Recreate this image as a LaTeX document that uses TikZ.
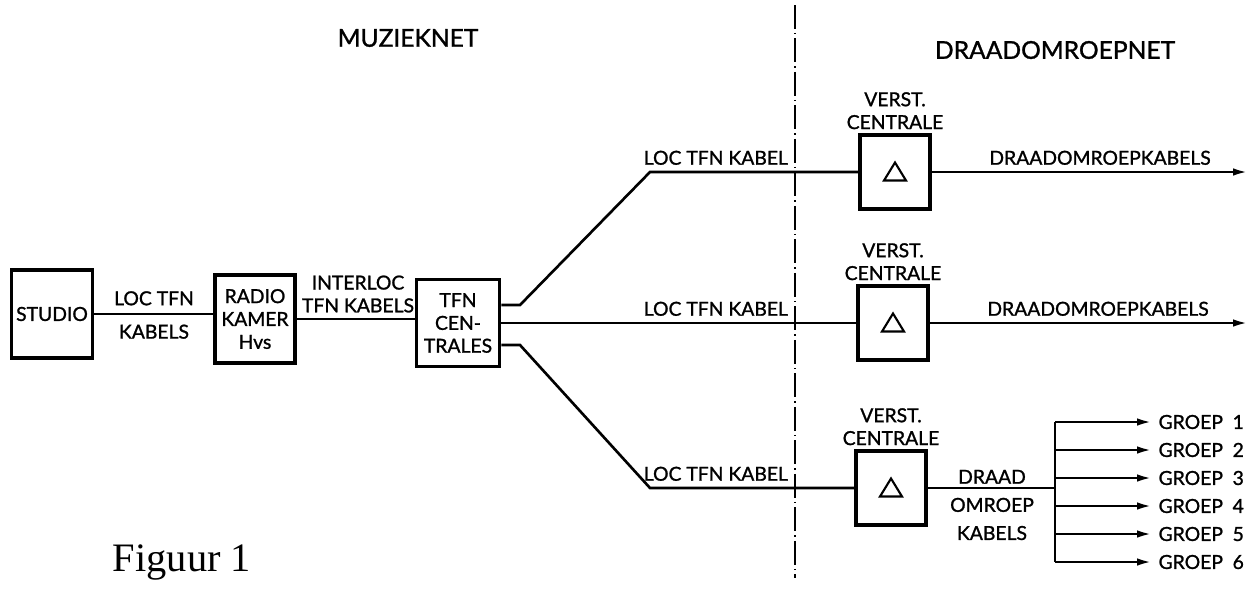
\documentclass[tikz,border=0pt]{standalone}
\usepackage{fontspec}
\setmainfont{Lato}[FakeBold=1.2]
\newfontfamily\figfont{Liberation Serif}
\usetikzlibrary{positioning, arrows.meta}

\begin{document}
\begin{tikzpicture}[
        x=0.02cm, y=-0.02cm,
        box/.style={
            rectangle,
            draw,
            line width=2.2pt,
            align=center,
            inner sep=1pt,
            font=\fontsize{11}{13}\selectfont
        },
        vbox/.style={
            box,
            minimum width=1.4cm,
            minimum height=1.48cm,
            path picture={
                \draw[line width=1.2pt, line join=miter]
                    ([shift={(-0.22cm,-0.17cm)}]path picture bounding box.center)
                    -- ([shift={(0.22cm,-0.17cm)}]path picture bounding box.center)
                    -- ([shift={(0cm,0.19cm)}]path picture bounding box.center)
                    -- cycle;
            }
        },
        lbl/.style={align=center, inner sep=1pt, font=\fontsize{11}{13}\selectfont},
        title/.style={inner sep=1pt, font=\fontsize{14}{16}\selectfont},
        wire/.style={line width=1.5pt},
        arrow/.style={wire, -{Latex[length=3mm, width=1.5mm]}},
        divider/.style={line width=1.1pt, dash pattern=on 0.48cm off 0.08cm on 0.03cm off 0.08cm}
    ]
    \useasboundingbox (0,0) rectangle (1250,589);

    % titels
    \node[title] (muziek) at (408,38) {MUZIEKNET};
    \node[title] (draadnet) at (1055,50) {DRAADOMROEPNET};
    \node[font=\figfont\fontsize{23}{23}\selectfont] (fig) at (182,562) {Figuur 1};

    % scheiding
    \coordinate (sep1) at (795,5);
    \coordinate (sep2) at (795,578);
    \draw[divider] (sep1) -- (sep2);

    % muzieknet
    \node[box, minimum width=1.62cm, minimum height=1.76cm] (studio) at (52,314) {STUDIO};
    \node[box, minimum width=1.6cm, minimum height=1.76cm] (radio) at (255,319) {RADIO\\KAMER\\Hvs};
    \node[box, minimum width=1.66cm, minimum height=1.74cm] (tfn) at (458,323) {TFN\\CEN-\\TRALES};
    \node[lbl] (lockab) at (154,315) {LOC TFN\\[6pt]KABELS};
    \node[lbl] (interloc) at (358,294) {INTERLOC\\TFN KABELS};

    % versterkers
    \node[vbox] (v1) at (895,172) {};
    \node[vbox] (v2) at (893,323) {};
    \node[vbox] (v3) at (891,488) {};
    \node[lbl, above=1pt of v1] (c1) {VERST.\\CENTRALE};
    \node[lbl, above=1pt of v2] (c2) {VERST.\\CENTRALE};
    \node[lbl, above=1pt of v3] (c3) {VERST.\\CENTRALE};

    % knikken
    \coordinate (up1) at (520,305);
    \coordinate (up2) at (650,172);
    \coordinate (lo1) at (520,345);
    \coordinate (lo2) at (650,488);

    % kabels
    \draw[wire] (studio.east) -- (studio.east -| radio.west);
    \draw[wire] (radio.east) -- (radio.east -| tfn.west);
    \draw[wire] (tfn.east |- up1) -- (up1) -- (up2) -- (v1.west);
    \draw[wire] (tfn.east) -- (v2.west);
    \draw[wire] (tfn.east |- lo1) -- (lo1) -- (lo2) -- (v3.west);
    \node[lbl, anchor=south east] (k1) at (790,167) {LOC TFN KABEL};
    \node[lbl, anchor=south east] (k2) at (790,318) {LOC TFN KABEL};
    \node[lbl, anchor=south east] (k3) at (790,483) {LOC TFN KABEL};

    % draadomroep
    \coordinate (out1) at (1248,172);
    \coordinate (out2) at (1248,323);
    \draw[arrow] (v1.east) -- (out1);
    \draw[arrow] (v2.east) -- (out2);
    \node[lbl, anchor=south] (dk1) at (1100,167) {DRAADOMROEPKABELS};
    \node[lbl, anchor=south] (dk2) at (1098,318) {DRAADOMROEPKABELS};

    \coordinate (bus) at (1055,488);
    \coordinate (bustop) at (1055,422);
    \coordinate (busbot) at (1055,562);
    \draw[wire] (v3.east) -- (bus);
    \draw[wire] (bustop) -- (busbot);
    \node[lbl] (dk3) at (992,505) {DRAAD\\[3pt]OMROEP\\[3pt]KABELS};
    \foreach \i/\yy in {1/422, 2/450, 3/478, 4/506, 5/534, 6/562} {
        \coordinate (g\i) at (1055,\yy);
        \draw[arrow] (g\i) -- ++(97,0) node[lbl, right=2pt] {GROEP\enspace\i};
    }

\end{tikzpicture}
\end{document}
